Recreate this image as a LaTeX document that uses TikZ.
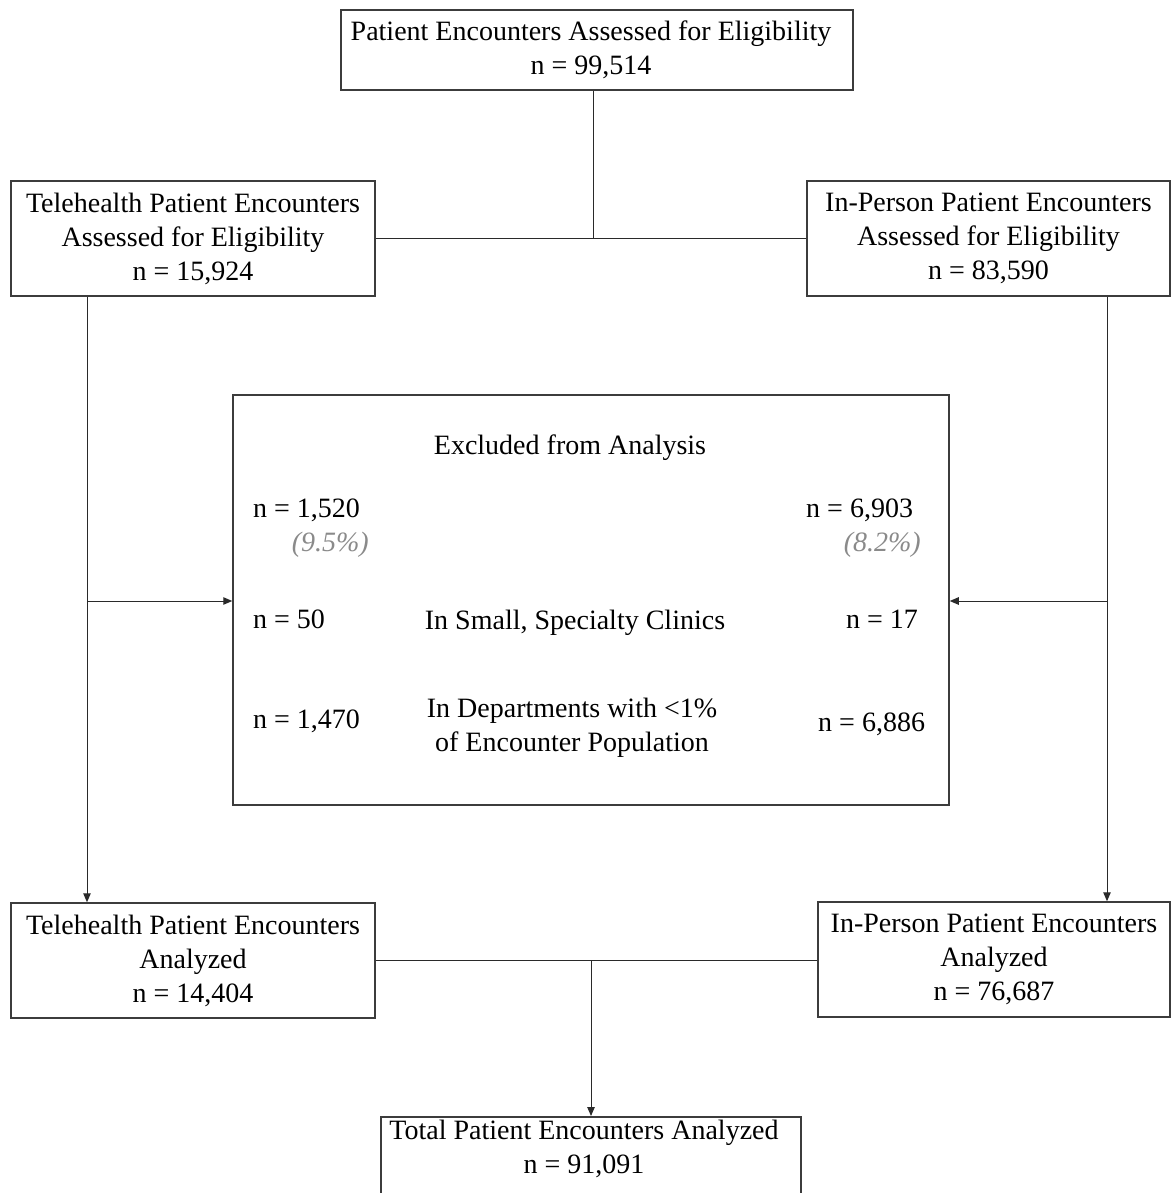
\documentclass[tikz,border=0pt]{standalone}
\usepackage{fontspec}
\setmainfont{Liberation Serif}
\usetikzlibrary{arrows.meta}
\definecolor{boxc}{HTML}{3C3C3C}
\definecolor{linec}{HTML}{2A2A2A}
\definecolor{pctc}{HTML}{8A8A8A}
\newcommand{\fsz}{\fontsize{28}{34}\selectfont}
\begin{document}
\begin{tikzpicture}[x=1pt,y=-1pt,
  box/.style={draw=boxc, line width=1.5pt, align=center, inner sep=0pt, font=\fsz},
  lbl/.style={inner sep=0pt, font=\fsz},
  pct/.style={inner sep=0pt, font=\fsz\itshape, text=pctc},
  conn/.style={draw=linec, line width=1pt},
  arr/.style={conn, -{Triangle[length=9pt,width=7.5pt]}}]
\useasboundingbox (0,0) rectangle (1171,1193);

% boxes
\node[box, minimum width=512pt, minimum height=80pt] (top) at (597,50)
  {Patient Encounters Assessed for Eligibility\hspace*{12pt}\\n = 99,514\hspace*{12pt}};
\node[box, minimum width=364pt, minimum height=115pt] (teleA) at (193,238.5)
  {Telehealth Patient Encounters\\Assessed for Eligibility\\n = 15,924};
\node[box, minimum width=363pt, minimum height=115pt] (inpA) at (988.5,238.5)
  {In-Person Patient Encounters\\Assessed for Eligibility\\n = 83,590};
\node[box, minimum width=716pt, minimum height=410pt] (excl) at (591,600) {};
\node[box, minimum width=364pt, minimum height=115pt] (teleB) at (193,960.5)
  {Telehealth Patient Encounters\\Analyzed\\n = 14,404};
\node[box, minimum width=352pt, minimum height=115pt] (inpB) at (994,959.5)
  {In-Person Patient Encounters\\Analyzed\\n = 76,687};
\node[box, minimum width=420pt, minimum height=100pt, anchor=north] (total) at (591,1116) {};
\node[lbl, align=center] (totaltxt) at (584,1148.5)
  {Total Patient Encounters Analyzed\\n = 91,091};

% excluded box contents
\node[lbl, anchor=base] (exT) at (570,454) {Excluded from Analysis};
\node[lbl, anchor=base west] (l1) at (253,517) {n = 1,520};
\node[pct, anchor=base east] (p1) at (369,551) {(9.5\%)};
\node[lbl, anchor=base west] (r1) at (806,517) {n = 6,903};
\node[pct, anchor=base east] (p2) at (921,551) {(8.2\%)};
\node[lbl, anchor=base west] (l2) at (253,628) {n = 50};
\node[lbl, anchor=base] (c2) at (575,629) {In Small, Specialty Clinics};
\node[lbl, anchor=base east] (r2) at (918,628) {n = 17};
\node[lbl, anchor=base west] (l3) at (253,728) {n = 1,470};
\node[lbl, align=center] (c3) at (572,728) {In Departments with <1\%\\of Encounter Population};
\node[lbl, anchor=base west] (r3) at (818,731) {n = 6,886};

% connectors
\coordinate (j1) at (593,238);
\coordinate (j2) at (591,960);
\coordinate (lt) at (87,601);
\coordinate (rt) at (1107,601);
\draw[conn] (top.south -| j1) -- (j1);
\draw[conn] (teleA.east |- j1) -- (inpA.west |- j1);
\draw[arr] (teleA.south -| lt) -- (teleB.north -| lt);
\draw[arr] (inpA.south -| rt) -- (inpB.north -| rt);
\draw[arr] (lt) -- (excl.west |- lt);
\draw[arr] (rt) -- (excl.east |- rt);
\draw[conn] (teleB.east |- j2) -- (inpB.west |- j2);
\draw[arr] (j2) -- (total.north -| j2);
\end{tikzpicture}
\end{document}
